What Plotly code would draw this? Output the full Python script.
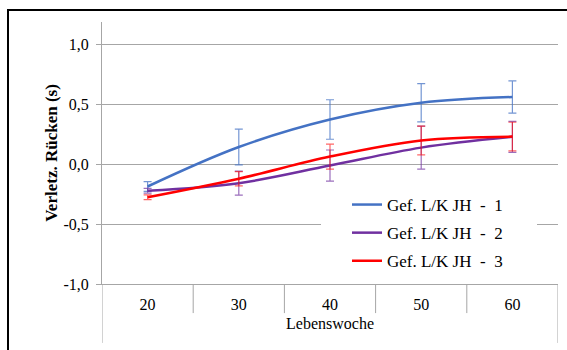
import plotly.graph_objects as go

weeks = [20, 30, 40, 50, 60]
tick_labels = ["20", "30", "40", "50", "60"]
y_ticks = [-1.0, -0.5, 0.0, 0.5, 1.0]
y_tick_labels = ["-1,0", "-0,5", "0,0", "0,5", "1,0"]

names = ["Gef. L/K JH\u00a0\u00a0-\u00a0\u00a01", "Gef. L/K JH\u00a0\u00a0-\u00a0\u00a02", "Gef. L/K JH\u00a0\u00a0-\u00a0\u00a03"]
series1 = [-0.185, 0.145, 0.375, 0.515, 0.563]
err1 = [0.04, 0.15, 0.165, 0.16, 0.135]
series2 = [-0.22, -0.157, -0.01, 0.14, 0.23]
err2 = [0.02, 0.10, 0.13, 0.18, 0.13]
series3 = [-0.275, -0.12, 0.065, 0.20, 0.232]
err3 = [0.02, 0.06, 0.105, 0.12, 0.12]

line_colors = ["#4472C4", "#7030A0", "#FF0000"]
err_colors = ["rgba(68,114,196,0.75)", "rgba(112,48,160,0.7)", "rgba(255,0,0,0.6)"]

font_family = "Liberation Serif"

fig = go.Figure()
for i, (vals, errs) in enumerate([(series1, err1), (series2, err2), (series3, err3)]):
    fig.add_trace(go.Scatter(
        x=weeks, y=vals, mode="lines", name=names[i],
        legendgroup=f"g{i}",
        line=dict(color=line_colors[i], width=2.5, shape="spline", smoothing=1.0),
        error_y=dict(type="data", array=errs, visible=True, color=err_colors[i], thickness=1.2, width=4),
    ))

# white legend background box covering gridline
fig.add_shape(type="rect", xref="paper", yref="paper",
              x0=(321 - 102) / 456, x1=(537 - 102) / 456,
              y0=(284 - 276) / 262, y1=(284 - 190) / 262,
              fillcolor="white", line=dict(width=0), layer="above")

axis_gray = "#A6A6A6"
# category separators
for k in range(6):
    xb = 15 + 10 * k
    y0 = -0.225 if k in (0, 5) else -0.111
    fig.add_shape(type="line", xref="x", yref="paper", x0=xb, x1=xb, y0=0, y1=y0,
                  line=dict(color=axis_gray, width=1))

# outer chart border
fig.add_shape(type="rect", xref="paper", yref="paper",
              x0=(8 - 102) / 456, x1=1.2, y0=-0.5, y1=1 + 12 / 262,
              line=dict(color="black", width=2), fillcolor="rgba(0,0,0,0)")

fig.update_layout(
    width=567, height=350,
    margin=dict(l=102, r=9, t=22, b=66),
    paper_bgcolor="white", plot_bgcolor="white",
    font=dict(family=font_family, size=16, color="black"),
    showlegend=True,
    legend=dict(x=(347 - 102) / 456, y=(284 - 187) / 262, xanchor="left", yanchor="top",
                bgcolor="rgba(0,0,0,0)", font=dict(size=17, family=font_family),
                traceorder="grouped", tracegroupgap=3, itemwidth=30),
    xaxis=dict(range=[15, 65], tickvals=weeks, ticktext=tick_labels, showgrid=False,
               zeroline=False, showline=True, linecolor=axis_gray, ticks="", ticklabelstandoff=6,
               title=dict(text="Lebenswoche", standoff=5, font=dict(size=16, family=font_family))),
    yaxis=dict(range=[-1.0, 1.19], tickvals=y_ticks, ticktext=y_tick_labels,
               showgrid=True, gridcolor=axis_gray, gridwidth=1, zeroline=False,
               showline=True, linecolor=axis_gray, ticks="outside", ticklen=5, tickcolor=axis_gray,
               ticklabelstandoff=4,
               title=dict(text="<b>Verletz. Rücken (s)</b>", standoff=1, font=dict(size=17, family=font_family))),
)

fig.write_html("out.html")
